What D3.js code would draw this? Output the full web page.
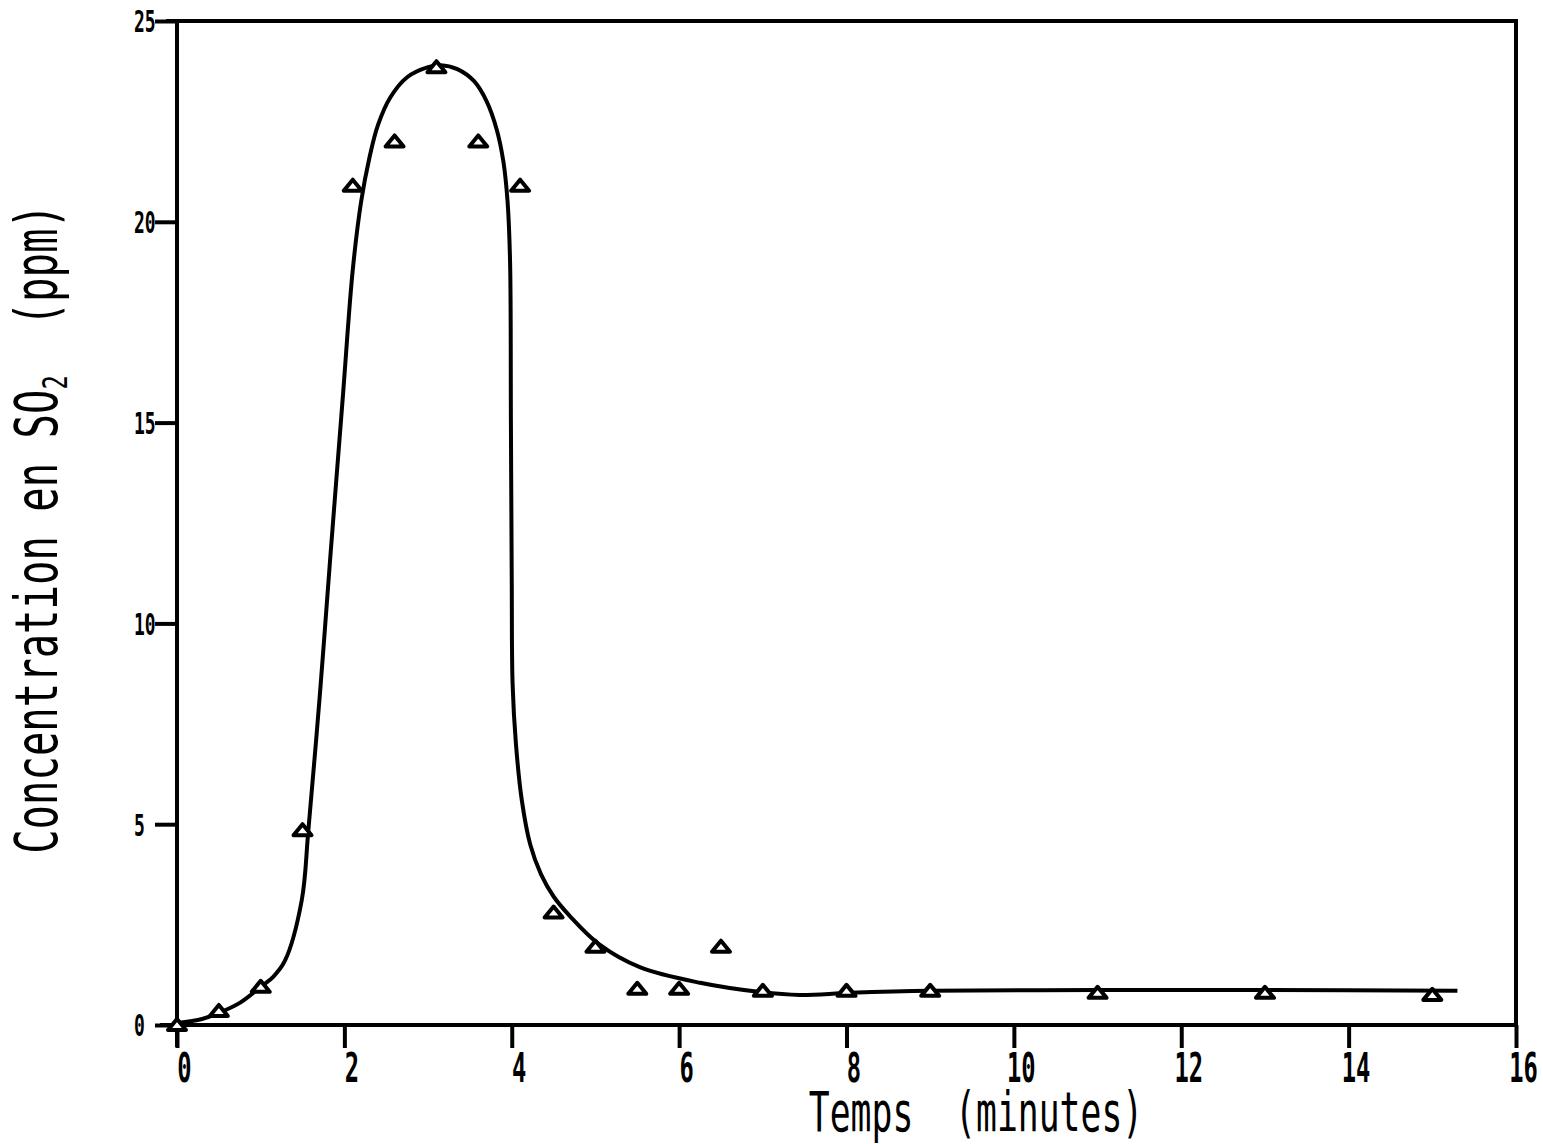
<!DOCTYPE html>
<html>
<head>
<meta charset="utf-8">
<title>Concentration en SO2</title>
<style>
  body { margin: 0; background: #fff; }
  text { font-family: "DejaVu Sans Mono", monospace; fill: #000; }
</style>
<script src="https://d3js.org/d3.v7.min.js"></script>
</head>
<body>
<svg width="1543" height="1144"></svg>
<script>
// measured points (triangles)
var timeMeas = [0, 0.5, 1, 1.5, 2.1, 2.6, 3.1, 3.6, 4.1, 4.5, 5, 5.5, 6, 6.5, 7, 8, 9, 11, 13, 15];
var concMeas = [0, 0.35, 0.95, 4.85, 20.9, 22.0, 23.85, 22.0, 20.9, 2.8, 1.95, 0.9, 0.9, 1.95, 0.85, 0.85, 0.85, 0.8, 0.8, 0.75];

// fitted curve
var timeCurve = [0, 0.3, 0.5, 0.75, 1.0, 1.15, 1.29, 1.49, 1.57, 1.71, 1.83, 1.98, 2.1, 2.2, 2.3, 2.4, 2.55, 2.75, 3.0, 3.15, 3.35, 3.55, 3.7, 3.82, 3.9, 3.95, 3.98, 3.99, 4.0, 4.01, 4.05, 4.12, 4.22, 4.35, 4.5, 4.7, 5.05, 5.53, 6.25, 6.97, 7.44, 8.04, 9, 11, 13, 15.3];
var concCurve = [0.05, 0.15, 0.3, 0.55, 0.95, 1.2, 1.6, 3.1, 4.86, 8.3, 11.6, 15.6, 18.8, 20.5, 21.6, 22.4, 23.1, 23.6, 23.85, 23.9, 23.8, 23.5, 23.0, 22.3, 21.5, 20.5, 19, 15, 11, 8.5, 7.0, 5.6, 4.5, 3.75, 3.2, 2.7, 2.0, 1.44, 1.05, 0.82, 0.75, 0.8, 0.85, 0.87, 0.87, 0.85];

var xTicks = [0, 2, 4, 6, 8, 10, 12, 14, 16];
var yTicks = [0, 5, 10, 15, 20, 25];

var svg = d3.select("svg");

var x = d3.scaleLinear().domain([0, 16]).range([177, 1516]);
var y = d3.scaleLinear().domain([0, 25]).range([1025, 21]);

// frame top + right
svg.append("line")
   .attr("x1", 166).attr("y1", y(25)).attr("x2", x(16) + 2).attr("y2", y(25))
   .attr("stroke", "#000").attr("stroke-width", 4);
svg.append("line")
   .attr("x1", x(16)).attr("y1", y(25)).attr("x2", x(16)).attr("y2", y(0))
   .attr("stroke", "#000").attr("stroke-width", 4);

var gx = svg.append("g")
   .attr("transform", "translate(0," + y(0) + ")")
   .call(d3.axisBottom(x).tickValues(xTicks).tickSize(23).tickSizeOuter(0).tickFormat(d3.format("d")));
gx.select(".domain").attr("stroke-width", 4).attr("d", "M160,0H" + (x(16) + 2));
gx.selectAll(".tick line").attr("stroke-width", 4);
gx.selectAll(".tick text")
   .attr("y", 57).attr("dy", 0)
   .attr("font-size", 41).attr("font-weight", "bold")
   .attr("font-family", "DejaVu Sans Mono")
   .attr("transform", "scale(0.58,1)")
   .attr("x", 12);

var gy = svg.append("g")
   .attr("transform", "translate(" + x(0) + ",0)")
   .call(d3.axisLeft(y).tickValues(yTicks).tickSize(22).tickSizeOuter(0).tickFormat(d3.format("d")));
gy.select(".domain").attr("stroke-width", 4).attr("d", "M0," + (y(25) - 2) + "V" + (y(0) + 22));
gy.selectAll(".tick line").attr("stroke-width", 4);
gy.selectAll(".tick text")
   .attr("text-anchor", "start")
   .attr("x", -43 / 0.6).attr("dy", "0.36em")
   .attr("font-size", 30).attr("font-weight", "bold")
   .attr("font-family", "DejaVu Sans Mono")
   .attr("transform", "scale(0.6,1)");

// curve
var curvePts = timeCurve.map(function(t, i) { return [t, concCurve[i]]; });
var line = d3.line()
   .x(function(d) { return x(d[0]); })
   .y(function(d) { return y(d[1]); })
   .curve(d3.curveCatmullRom.alpha(0.5));
svg.append("path")
   .datum(curvePts)
   .attr("d", line)
   .attr("fill", "none")
   .attr("stroke", "#000")
   .attr("stroke-width", 4)
   .attr("stroke-linejoin", "round");

// triangles
var measPts = timeMeas.map(function(t, i) { return [t, concMeas[i]]; });
svg.selectAll(".tri")
   .data(measPts)
   .enter().append("path")
   .attr("class", "tri")
   .attr("transform", function(d) { return "translate(" + x(d[0]) + "," + y(d[1]) + ")"; })
   .attr("d", "M-9,5L0,-6L9,5Z")
   .attr("fill", "#fff")
   .attr("stroke", "#000")
   .attr("stroke-width", 4)
   .attr("stroke-linejoin", "round");

// axis titles
svg.append("g")
   .attr("transform", "translate(976,1131) scale(0.62,1)")
   .append("text")
   .attr("text-anchor", "middle")
   .attr("font-size", 56)
   .attr("xml:space", "preserve")
   .text("Temps  (minutes)");

var yt = svg.append("g")
   .attr("transform", "translate(57,529) rotate(-90) scale(0.70,1)")
   .append("text")
   .attr("text-anchor", "middle")
   .attr("font-size", 58)
   .attr("xml:space", "preserve");
yt.append("tspan").text("Concentration en SO");
yt.append("tspan").attr("font-size", 34).attr("dy", 10).text("2");
yt.append("tspan").attr("dy", -10).text("  (ppm)");
</script>
</body>
</html>
